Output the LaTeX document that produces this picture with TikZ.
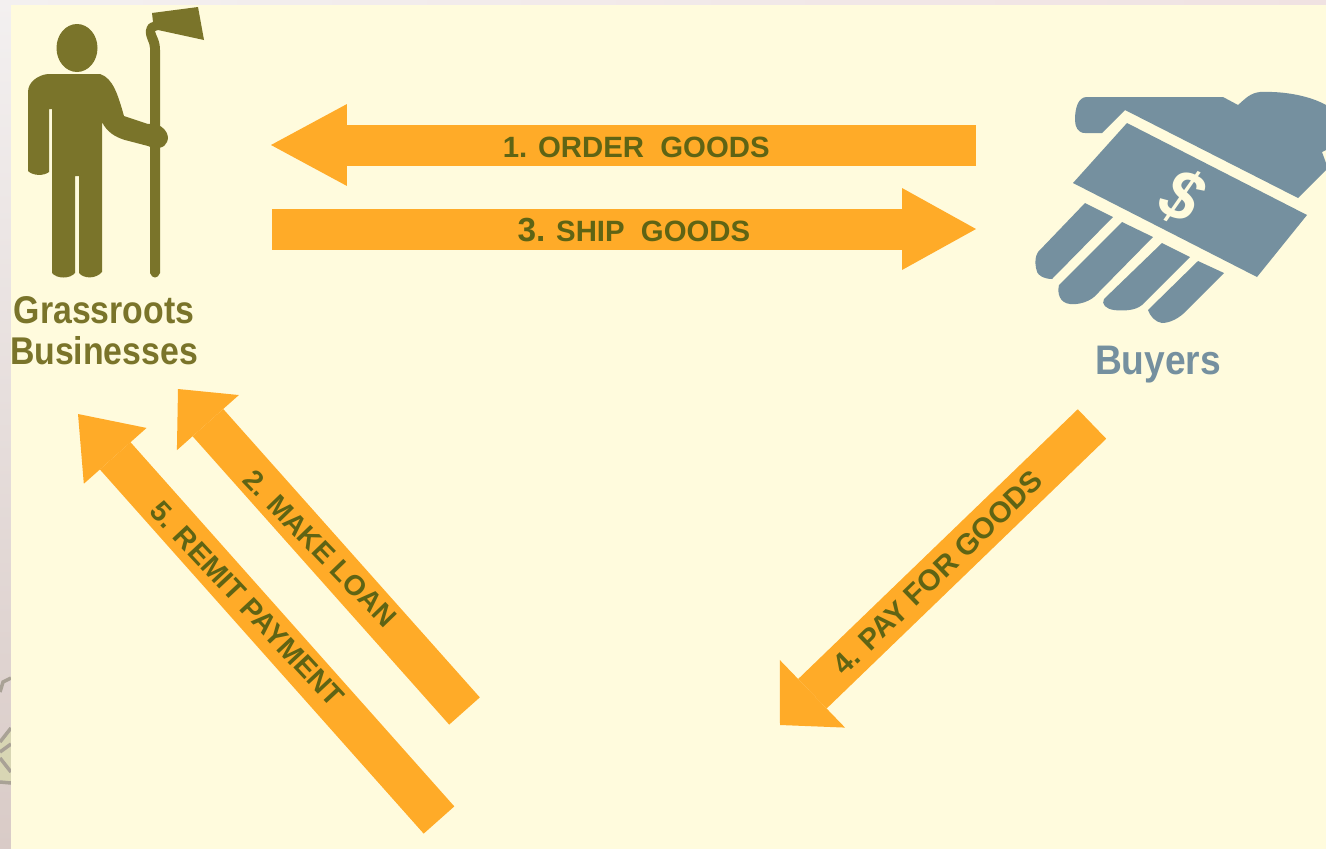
\documentclass[tikz,border=0pt]{standalone}
\usepackage{fontspec}
\setmainfont{Liberation Sans}
\newfontfamily\namefont[FakeStretch=0.875]{Liberation Sans}
\newfontfamily\buyerfont[FakeStretch=0.9]{Liberation Sans}
\usetikzlibrary{arrows.meta}

\definecolor{creambg}{HTML}{FFFBDD}
\definecolor{flowfill}{HTML}{FFAB28}
\definecolor{flowtext}{HTML}{5F6414}
\definecolor{growerfill}{HTML}{7A742A}
\definecolor{buyerfill}{HTML}{75909F}
\definecolor{striptop}{HTML}{F3F0F0}
\definecolor{stripbottom}{HTML}{D9CBC7}
\definecolor{topright}{HTML}{F0E2E2}
\definecolor{sketchgray}{HTML}{A9A296}
\definecolor{sketchpale}{HTML}{D8D6B4}

\tikzset{
  flowarrow/.style n args={2}{line width=0.82cm, draw=flowfill,
    -{Triangle[length=#1cm,width=#2cm,line width=0pt,fill=flowfill]}},
  flowlabel/.style={text=flowtext, font=\fontsize{16.7}{18}\selectfont\bfseries, inner sep=0pt},
  sketchline/.style={draw=sketchgray, line width=0.07cm}
}

\begin{document}
\begin{tikzpicture}[x=0.02cm,y=-0.02cm]
\useasboundingbox (0,0) rectangle (1326,849);

\shade[top color=striptop, bottom color=stripbottom] (0,0) rectangle (11,849);
\shade[left color=striptop, right color=topright] (0,0) rectangle (1326,5);

\fill[sketchpale] (0,742) -- (11,728) -- (11,783) -- (0,780) -- cycle;
\draw[sketchline] (11,678) -- (3,682) -- (0,692);
\draw[sketchline] (11,728) -- (0,742);
\draw[sketchline] (0,752) -- (11,744);
\draw[sketchline] (0,758) -- (11,772);
\draw[sketchline] (0,782) -- (11,783);

\fill[creambg] (11,5) rectangle (1326,849);

\fill[growerfill] (77,48) ellipse (20.5 and 24);

\fill[growerfill] (48,74) -- (100,74) .. controls (113,78) and (118,95) .. (124,116)
  -- (148,124) .. controls (162,122) and (171,134) .. (167,142)
  .. controls (165,148) and (156,150) .. (148,146) -- (125,140)
  .. controls (115,137) and (107,132) .. (102,122) -- (102,272)
  .. controls (96,279) and (84,279) .. (79,273) -- (79,176) -- (75,176) -- (75,273)
  .. controls (70,279) and (57,279) .. (52,273) -- (52,109) -- (49,109) -- (49,172)
  .. controls (44,176) and (33,176) .. (28,171) -- (28,92)
  .. controls (28,82) and (38,75) .. (48,74) -- cycle;

\fill[growerfill] (150,273) -- (150,48) .. controls (150,42) and (145,38) .. (146,30)
  .. controls (147,25) and (149,23) .. (153,22) -- (152,13) -- (198,7) -- (204,40) -- (158,30)
  -- (155,31) .. controls (156,36) and (160,40) .. (160,50) -- (160,273)
  .. controls (158,279) and (152,279) .. (150,273) -- cycle;

\node[text=growerfill, align=center, inner sep=0pt, font=\namefont\fontsize{22}{23.2}\selectfont\bfseries] (grass) at (104,331)
{Grassroots\\Businesses};

\fill[buyerfill] (1087,97) -- (1223,97) -- (1238,105) .. controls (1245,99) and (1250,93) .. (1260,92)
  .. controls (1285,91) and (1310,96) .. (1326,105) -- (1326,150) -- (1322,152) -- (1326,163) -- (1326,170)
  -- (1298,198) -- (1125,110) -- (1102,133) -- (1085,133)
  .. controls (1078,133) and (1075,127) .. (1075,120) .. controls (1075,108) and (1078,97) .. (1087,97) -- cycle;

\fill[buyerfill] (1127,123) -- (1307,215) -- (1257,277) -- (1073,183) -- cycle;

\fill[buyerfill] (1085,203) -- (1113,217) -- (1052,279) .. controls (1044,279) and (1036,275) .. (1036,268)
  .. controls (1035,262) and (1035,257) .. (1038,252) -- cycle;
\fill[buyerfill] (1122,222) -- (1153,237) -- (1098,293) .. controls (1091,302) and (1078,305) .. (1070,304)
  .. controls (1060,303) and (1057,294) .. (1059,285) -- cycle;
\fill[buyerfill] (1162,243) -- (1190,257) -- (1142,305) .. controls (1135,311) and (1122,311) .. (1114,310)
  .. controls (1106,309) and (1101,304) .. (1104,299) -- cycle;
\fill[buyerfill] (1198,261) -- (1224,273) -- (1187,310) .. controls (1180,318) and (1170,323) .. (1162,323)
  .. controls (1155,322) and (1150,316) .. (1148,310) -- cycle;

\node[text=creambg, rotate=-25, inner sep=0pt, font=\buyerfont\fontsize{41}{43}\selectfont\bfseries\itshape] (dollar) at (1182,196)
{\$};

\node[text=buyerfill, inner sep=0pt, font=\buyerfont\fontsize{23.5}{25}\selectfont\bfseries] (buyers) at (1158,365)
{Buyers};

\coordinate (orderstart) at (976,145);
\coordinate (ordertip) at (271,145);
\coordinate (shipstart) at (272,229);
\coordinate (shiptip) at (976,229);
\coordinate (loanstart) at (464.5,711);
\coordinate (loantip) at (178,389);
\coordinate (remitstart) at (439,820);
\coordinate (remittip) at (78,414);
\coordinate (paystart) at (1092,424);
\coordinate (paytip) at (780,725);

\draw[flowarrow={1.52}{1.64}] (orderstart) -- (ordertip)
node[flowlabel, pos=0.482, yshift=-0.04cm] (order) {1. ORDER\ \ GOODS};

\draw[flowarrow={1.48}{1.64}] (shipstart) -- (shiptip)
node[flowlabel, pos=0.514, yshift=-0.02cm] (ship) {{\fontsize{19}{20}\selectfont 3.} SHIP\ \ GOODS};

\draw[flowarrow={0.9}{1.66}] (loanstart) -- (loantip)
node[flowlabel, pos=0.504, rotate=-46, font=\fontsize{16.1}{18}\selectfont\bfseries] (loan) {2. MAKE\ LOAN};

\draw[flowarrow={1.12}{1.68}] (remitstart) -- (remittip)
node[flowlabel, pos=0.532, rotate=-47, font=\fontsize{16.4}{18}\selectfont\bfseries] (remit) {5. REMIT\ PAYMENT};

\draw[flowarrow={0.9}{1.88}] (paystart) -- (paytip)
node[flowlabel, pos=0.494, sloped] (pay) {4. PAY\ FOR\ GOODS};
\end{tikzpicture}
\end{document}
